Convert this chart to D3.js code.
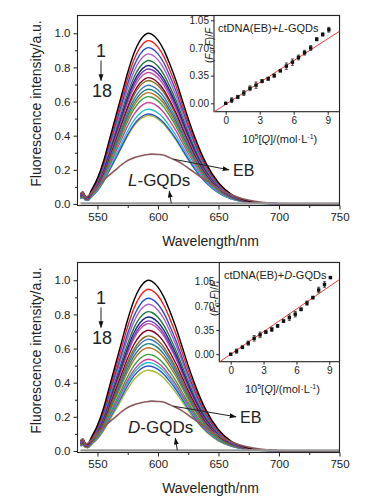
<!DOCTYPE html>
<html>
<head>
<meta charset="utf-8">
<script src="https://cdn.jsdelivr.net/npm/d3@7"></script>
<style>
  html, body { margin: 0; padding: 0; background: #fff; }
  svg { display: block; }
</style>
</head>
<body>
<script>
// 波长采样点和最高那条曲线（1号）的归一化形状
const wavelengths = [536, 538, 540, 542, 545, 550, 555, 560, 565, 570, 575, 580, 585, 590, 592, 595, 600, 605, 610, 615, 620, 625, 630, 640, 650, 660, 670, 680, 690, 700, 720, 750];
const shape = [0.06, 0.07, 0.045, 0.04, 0.08, 0.15, 0.25, 0.38, 0.51, 0.64, 0.77, 0.88, 0.955, 0.995, 1.0, 0.994, 0.96, 0.9, 0.815, 0.72, 0.61, 0.5, 0.4, 0.235, 0.125, 0.06, 0.027, 0.011, 0.005, 0.002, 0.001, 0.0];
// EB 曲线
const ebCurve = [0.06, 0.07, 0.04, 0.045, 0.065, 0.10, 0.14, 0.17, 0.20, 0.23, 0.255, 0.27, 0.28, 0.288, 0.29, 0.292, 0.29, 0.285, 0.27, 0.255, 0.235, 0.21, 0.185, 0.135, 0.09, 0.055, 0.03, 0.015, 0.007, 0.003, 0.001, 0.0];
// GQDs 本身（接近零的灰线）
const gqdCurve = wavelengths.map(() => 0.004);

// 每条曲线的峰值（1 → 18）
const peaksL = [1.0, 0.957, 0.916, 0.879, 0.840, 0.811, 0.791, 0.770, 0.740, 0.723, 0.695, 0.672, 0.652, 0.629, 0.594, 0.555, 0.527, 0.518];
const peaksD = [1.0, 0.947, 0.895, 0.859, 0.816, 0.785, 0.762, 0.746, 0.707, 0.674, 0.654, 0.629, 0.605, 0.566, 0.537, 0.518, 0.498, 0.473];
const curveColors = ["#000000", "#ff1a1a", "#2a4ec8", "#b05cc8", "#1e7a3a", "#1c2880", "#7a3ab0", "#c050b0", "#800026", "#8a6a1a", "#3a78c0", "#1a8080", "#c07020", "#30a040", "#d040a0", "#20c0d0", "#3050d0", "#a8b830"];

// 插图：Stern-Volmer 数据
const concQ = [0, 0.535, 1.07, 1.6, 2.14, 2.68, 3.21, 3.75, 4.28, 4.82, 5.35, 5.89, 6.42, 6.96, 7.5, 8.03, 8.56, 9.1];
const ratioL = [0.0, 0.04, 0.08, 0.13, 0.19, 0.23, 0.28, 0.31, 0.35, 0.41, 0.47, 0.52, 0.58, 0.64, 0.70, 0.81, 0.87, 0.93];
const errL = [0.01, 0.03, 0.02, 0.03, 0.03, 0.04, 0.02, 0.02, 0.02, 0.01, 0.04, 0.04, 0.03, 0.03, 0.03, 0.02, 0.02, 0.03];
const ratioD = [0.0, 0.044, 0.10, 0.16, 0.23, 0.28, 0.32, 0.36, 0.41, 0.48, 0.53, 0.58, 0.65, 0.74, 0.82, 0.93, 1.01, 1.11];
const errD = [0.01, 0.03, 0.02, 0.03, 0.04, 0.04, 0.02, 0.03, 0.02, 0.02, 0.04, 0.04, 0.02, 0.03, 0.02, 0.04, 0.04, 0.01];
const fitL = { slope: 0.092, intercept: -0.013 };
const fitD = { slope: 0.109, intercept: 0.0 };

const xTicks = [550, 600, 650, 700, 750];
const yTicks = [0, 0.2, 0.4, 0.6, 0.8, 1.0];
const insetXTicks = [0, 3, 6, 9];
const insetYTicks = [0, 0.35, 0.70, 1.05];

const W = 369, H = 501;
const font = "'Liberation Sans', Arial, sans-serif";

const svg = d3.create("svg")
  .attr("width", W)
  .attr("height", H)
  .attr("font-family", font);

const defs = svg.append("defs");
defs.append("marker")
  .attr("id", "arrow")
  .attr("viewBox", "0 0 10 10")
  .attr("refX", 9).attr("refY", 5)
  .attr("markerWidth", 7).attr("markerHeight", 7)
  .attr("orient", "auto")
  .append("path")
  .attr("d", "M0,1.5 L10,5 L0,8.5 Z")
  .attr("fill", "#111");

function drawPanel(opt) {
  const top = opt.top;
  const frame = { left: 77.5, right: 339.5, top: top, bottom: top + 190 };
  const x = d3.scaleLinear().domain([533.5, 750]).range([frame.left, frame.right]);
  const y = d3.scaleLinear().domain([-0.009, 1.104]).range([frame.bottom, frame.top]);

  const clipId = "clip" + opt.id;
  defs.append("clipPath").attr("id", clipId)
    .append("rect")
    .attr("x", frame.left).attr("y", frame.top)
    .attr("width", frame.right - frame.left).attr("height", frame.bottom - frame.top);

  const g = svg.append("g");
  const line = d3.line().x((d, i) => x(wavelengths[i])).y(d => y(d)).curve(d3.curveMonotoneX);

  const curves = g.append("g").attr("clip-path", `url(#${clipId})`).attr("fill", "none");
  // 最低的曲线先画，黑色最后压在上面
  opt.peaks.map((p, i) => ({ p, i })).reverse().forEach(({ p, i }) => {
    curves.append("path")
      .attr("d", line(shape.map(v => v * p)))
      .attr("stroke", curveColors[i])
      .attr("stroke-width", 1.4);
  });
  curves.append("path").attr("d", line(ebCurve))
    .attr("stroke", "#8c5a5e").attr("stroke-width", 1.6);
  curves.append("path").attr("d", line(gqdCurve))
    .attr("stroke", "#9a9a9a").attr("stroke-width", 2.2);

  // 坐标轴
  const xAxis = d3.axisBottom(x).tickValues(xTicks).tickSize(4).tickPadding(3).tickFormat(d3.format("d"));
  const xMinor = d3.axisBottom(x).tickValues([575, 625, 675, 725]).tickSize(2.5).tickFormat("");
  const yAxis = d3.axisLeft(y).tickValues(yTicks).tickSize(4).tickPadding(3).tickFormat(d3.format(".1f"));
  const yMinor = d3.axisLeft(y).tickValues([0.1, 0.3, 0.5, 0.7, 0.9]).tickSize(2.5).tickFormat("");

  [[xAxis, "translate(0," + frame.bottom + ")"], [xMinor, "translate(0," + frame.bottom + ")"],
   [yAxis, "translate(" + frame.left + ",0)"], [yMinor, "translate(" + frame.left + ",0)"]].forEach(([ax, tr]) => {
    const a = g.append("g").attr("transform", tr).call(ax);
    a.select(".domain").remove();
    a.selectAll("line").attr("stroke", "#222");
    a.selectAll("text").attr("font-size", 11.5).attr("fill", "#222").attr("font-family", font);
  });

  g.append("rect")
    .attr("x", frame.left).attr("y", frame.top)
    .attr("width", frame.right - frame.left).attr("height", frame.bottom - frame.top)
    .attr("fill", "none").attr("stroke", "#222").attr("stroke-width", 1.1);

  g.append("text")
    .attr("x", (frame.left + frame.right) / 2 + 2).attr("y", frame.bottom + 40)
    .attr("text-anchor", "middle").attr("font-size", 14).attr("fill", "#222")
    .text("Wavelength/nm");
  g.append("text")
    .attr("transform", `translate(41,${frame.top + 88}) rotate(-90)`)
    .attr("text-anchor", "middle").attr("font-size", 14).attr("fill", "#222")
    .text("Fluorescence intensity/a.u.");

  // 1 → 18 标注
  g.append("text").attr("x", 101).attr("y", top + 41).attr("text-anchor", "middle")
    .attr("font-size", 18).attr("fill", "#222").text("1");
  g.append("line").attr("x1", 101).attr("x2", 101).attr("y1", top + 45).attr("y2", top + 65)
    .attr("stroke", "#222").attr("stroke-width", 1).attr("marker-end", "url(#arrow)");
  g.append("text").attr("x", 102).attr("y", top + 81).attr("text-anchor", "middle")
    .attr("font-size", 18).attr("fill", "#222").text("18");

  // EB 标注
  g.append("line").attr("x1", x(613)).attr("y1", y(0.262)).attr("x2", opt.ebArrowX).attr("y2", y(0.2))
    .attr("stroke", "#222").attr("stroke-width", 1).attr("marker-end", "url(#arrow)");
  g.append("text").attr("x", opt.ebArrowX + 4).attr("y", y(0.2) + 6)
    .attr("font-size", 16).attr("fill", "#222").text("EB");

  // GQDs 标注
  const gq = g.append("text").attr("x", 128).attr("y", y(0.105)).attr("font-size", 17).attr("fill", "#222");
  gq.append("tspan").attr("font-style", "italic").text(opt.letter);
  gq.append("tspan").text("-GQDs");
  g.append("line").attr("x1", x(opt.gqArrow)).attr("y1", y(0.004)).attr("x2", x(opt.gqArrow) - 2).attr("y2", y(0.075))
    .attr("stroke", "#222").attr("stroke-width", 1).attr("marker-end", "url(#arrow)");

  drawInset(opt.inset, opt.letter);
}

function drawInset(o, letter) {
  const f = o.frame;
  const x = d3.scaleLinear().domain(o.xDomain).range([f.left, f.right]);
  const y = d3.scaleLinear().domain(o.yDomain).range([f.bottom, f.top]);
  const g = svg.append("g");

  g.append("rect")
    .attr("x", f.left).attr("y", f.top).attr("width", f.right - f.left).attr("height", f.bottom - f.top)
    .attr("fill", "#fff").attr("stroke", "#222").attr("stroke-width", 1.1);

  const clipId = "iclip" + letter;
  defs.append("clipPath").attr("id", clipId)
    .append("rect").attr("x", f.left).attr("y", f.top).attr("width", f.right - f.left).attr("height", f.bottom - f.top);

  // 拟合直线
  g.append("line").attr("clip-path", `url(#${clipId})`)
    .attr("x1", x(o.xDomain[0])).attr("y1", y(o.fit.slope * o.xDomain[0] + o.fit.intercept))
    .attr("x2", x(o.xDomain[1])).attr("y2", y(o.fit.slope * o.xDomain[1] + o.fit.intercept))
    .attr("stroke", "#f03a3a").attr("stroke-width", 1);

  // 误差线与数据点
  const pts = g.append("g");
  concQ.forEach((c, i) => {
    const v = o.ratio[i], e = o.err[i];
    const px = x(c);
    pts.append("line").attr("x1", px).attr("x2", px).attr("y1", y(v - e)).attr("y2", y(v + e))
      .attr("stroke", "#222").attr("stroke-width", 0.8);
    [v - e, v + e].forEach(yy => pts.append("line").attr("x1", px - 1.5).attr("x2", px + 1.5)
      .attr("y1", y(yy)).attr("y2", y(yy)).attr("stroke", "#222").attr("stroke-width", 0.8));
    pts.append("rect").attr("x", px - 1.7).attr("y", y(v) - 1.7).attr("width", 3.4).attr("height", 3.4)
      .attr("fill", "#111");
  });

  const xAxis = d3.axisBottom(x).tickValues(insetXTicks).tickSize(3).tickPadding(2).tickFormat(d3.format("d"));
  const yAxis = d3.axisLeft(y).tickValues(insetYTicks).tickSize(3).tickPadding(2).tickFormat(d3.format(".2f"));
  [[xAxis, "translate(0," + f.bottom + ")"], [yAxis, "translate(" + f.left + ",0)"]].forEach(([ax, tr]) => {
    const a = g.append("g").attr("transform", tr).call(ax);
    a.select(".domain").remove();
    a.selectAll("line").attr("stroke", "#222");
    a.selectAll("text").attr("font-size", 10).attr("fill", "#222").attr("font-family", font);
  });

  // 标题文字
  const t = g.append("text").attr("x", o.labelX).attr("y", f.top + o.labelDy).attr("font-size", 11).attr("fill", "#222");
  t.append("tspan").text("ctDNA(EB)+");
  t.append("tspan").attr("font-style", "italic").text(letter);
  t.append("tspan").text("-GQDs");

  const xt = g.append("text").attr("x", (f.left + f.right) / 2 + 3).attr("y", f.bottom + 31)
    .attr("text-anchor", "middle").attr("font-size", 11).attr("fill", "#222");
  xt.append("tspan").text("10");
  xt.append("tspan").attr("font-size", 7).attr("dy", -4).text("5");
  xt.append("tspan").attr("dy", 4).text("[");
  xt.append("tspan").attr("font-style", "italic").text("Q");
  xt.append("tspan").text("]/(mol·L");
  xt.append("tspan").attr("font-size", 7).attr("dy", -4).text("-1");
  xt.append("tspan").attr("dy", 4).text(")");

  const yt = g.append("text")
    .attr("transform", `translate(${f.left - 1.5},${f.top + o.yTitleDy}) rotate(-90)`)
    .attr("text-anchor", "middle").attr("font-size", 10).attr("fill", "#222");
  yt.append("tspan").text("(");
  yt.append("tspan").attr("font-style", "italic").text("F");
  yt.append("tspan").attr("font-size", 7).attr("dy", 2).text("0");
  yt.append("tspan").attr("dy", -2).text("-");
  yt.append("tspan").attr("font-style", "italic").text("F");
  yt.append("tspan").text(")/");
  yt.append("tspan").attr("font-style", "italic").text("F");
}

drawPanel({
  id: "L", top: 15.5, peaks: peaksL, letter: "L", ebArrowX: 229, gqArrow: 611,
  inset: {
    frame: { left: 214, right: 339.5, top: 15.5, bottom: 111.7 },
    xDomain: [-1.03, 10.04], yDomain: [-0.106, 1.11],
    ratio: ratioL, err: errL, fit: fitL, labelX: 218, labelDy: 16, yTitleDy: 30
  }
});

drawPanel({
  id: "D", top: 262.5, peaks: peaksD, letter: "D", ebArrowX: 236, gqArrow: 616,
  inset: {
    frame: { left: 219.3, right: 339.5, top: 262.5, bottom: 361.7 },
    xDomain: [-1.04, 9.93], yDomain: [-0.109, 1.329],
    ratio: ratioD, err: errD, fit: fitD, labelX: 224, labelDy: 16.5, yTitleDy: 36
  }
});

d3.select("body").append(() => svg.node());
</script>
</body>
</html>
